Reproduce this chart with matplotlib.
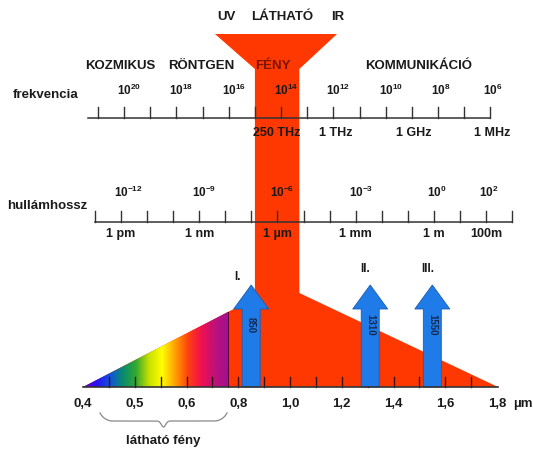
import numpy as np
import matplotlib.pyplot as plt
from matplotlib.patches import Polygon, FancyArrow
from matplotlib.colors import LinearSegmentedColormap

plt.rcParams['font.family'] = ['Liberation Sans', 'DejaVu Sans']
plt.rcParams['mathtext.fontset'] = 'custom'
plt.rcParams['mathtext.rm'] = 'Liberation Sans'
plt.rcParams['mathtext.bf'] = 'Liberation Sans:bold'

# --- data -------------------------------------------------------------
band_names = ['KOZMIKUS', 'RÖNTGEN', 'FÉNY', 'KOMMUNIKÁCIÓ']
band_freq_exp = [20.15, 17.05, 14.3, 8.75]          # label centre on the frequency scale
light_names = ['UV', 'LÁTHATÓ', 'IR']
light_freq_exp = [16.1, 13.95, 11.85]

freq_exps = [20, 18, 16, 14, 12, 10, 8, 6]
freq_named = [2.5e14, 1e12, 1e9, 1e6]
freq_named_labels = ['250 THz', '1 THz', '1 GHz', '1 MHz']

wl_exps = [-12, -9, -6, -3, 0, 2]
wl_named_labels = ['1 pm', '1 nm', '1 µm', '1 mm', '1 m', '100m']

um_values = [0.4, 0.5, 0.6, 0.8, 1.0, 1.2, 1.4, 1.6, 1.8]
um_labels = ['0,4', '0,5', '0,6', '0,8', '1,0', '1,2', '1,4', '1,6', '1,8']
visible_end = 0.76

windows = ['I.', 'II.', 'III.']
window_nm = [850, 1310, 1550]

rainbow = ['#6a00c0', '#2a10f0', '#1050e0', '#0a8a70', '#30a830', '#c8e000', '#ffff00',
           '#ffa000', '#ff4010', '#f01050', '#c0107a', '#a01090']

RED = '#fe3800'
BLUE = '#1f7be8'
INK = '#1a1a1a'


# --- scales (pixel layout of the figure) -------------------------------
def freq_x(e):
    return 98 + (21 - e) * 26.15


def wl_x(e):
    return 95 + (e + 13) * 26.07


def um_x(v):
    return 83 + 51.75 * np.interp(v, um_values, np.arange(len(um_values)))


fig = plt.figure(figsize=(5.33, 4.53), dpi=100)
ax = fig.add_axes([0, 0, 1, 1])
ax.set_xlim(0, 533)
ax.set_ylim(453, 0)
ax.axis('off')

bold = dict(fontweight='bold', color=INK)
FS = 9.5

# red funnel / spectrum shape
base_y = 387
x0, x1 = um_x(0.4), um_x(1.8) + 1
xv = um_x(visible_end)
slope = (base_y - 312) / (xv - x0)
stem_l, stem_r = freq_x(15.0), freq_x(13.3)
shape = [(x0, base_y), (stem_l, base_y - slope * (stem_l - x0)), (stem_l, 69),
         (215, 34), (337, 34), (stem_r, 69), (stem_r, 293), (x1, base_y)]
ax.add_patch(Polygon(shape, closed=True, fc=RED, ec='none', zorder=1))

# visible light gradient
tri = Polygon([(x0, base_y), (xv, base_y - slope * (xv - x0)), (xv, base_y)],
              closed=True, fc='none', ec='none')
ax.add_patch(tri)
cmap = LinearSegmentedColormap.from_list('vis', rainbow)
grad = np.linspace(0, 1, 256)[None, :]
im = ax.imshow(grad, cmap=cmap, extent=(x0, xv, base_y, 300), aspect='auto', zorder=2)
im.set_clip_path(tri)
ax.plot([xv, xv], [base_y, base_y - slope * (xv - x0)], color='#5a0030', lw=0.8, zorder=2)
ax.set_xlim(0, 533)
ax.set_ylim(453, 0)

# frequency axis
fy = 118
ax.plot([freq_x(21.4), freq_x(6)], [fy, fy], color='#333333', lw=1.1, zorder=3)
for e in range(6, 22):
    ax.plot([freq_x(e)] * 2, [fy, fy - 11], color='#333333', lw=1, zorder=3)
for e in freq_exps:
    ax.text(freq_x(e) - 7, 90, r'$\mathbf{10^{%d}}$' % e, fontsize=8.5, ha='left',
            va='center', zorder=5, color=INK)
for f, lab in zip(freq_named, freq_named_labels):
    ax.text(freq_x(np.log10(f)) + (6 if f > 1e13 else 2), 133, lab, fontsize=9, ha='center',
            va='center', zorder=5, **bold)
ax.text(46, 95, 'frekvencia', fontsize=FS, ha='center', va='center', zorder=5, **bold)

# wavelength axis
wy = 222
ax.plot([wl_x(-13), wl_x(3)], [wy, wy], color='#333333', lw=1.1, zorder=3)
for e in range(-13, 4):
    ax.plot([wl_x(e)] * 2, [wy, wy - 11], color='#333333', lw=1, zorder=3)
for e, lab in zip(wl_exps, wl_named_labels):
    ax.text(wl_x(e) - 7, 192, r'$\mathbf{10^{%d}}$' % e, fontsize=8.5, ha='left',
            va='center', zorder=5, color=INK)
    ax.text(wl_x(e), 234, lab, fontsize=9, ha='center', va='center', zorder=5, **bold)
ax.text(47, 206, 'hullámhossz', fontsize=FS, ha='center', va='center', zorder=5, **bold)

# band names
for name, e in zip(band_names, band_freq_exp):
    col = '#7a1500' if name == 'FÉNY' else INK
    ax.text(freq_x(e), 66, name, fontsize=FS, ha='center', va='center', zorder=5,
            fontweight='bold', color=col)
for name, e in zip(light_names, light_freq_exp):
    ax.text(freq_x(e), 17, name, fontsize=FS, ha='center', va='center', zorder=5, **bold)

# bottom micrometre axis
for k in range(1, 16):
    xt = um_x(um_values[0]) + 51.75 * k / 2
    ax.plot([xt, xt], [base_y, base_y - 10], color='#3a1010', lw=1, zorder=3)
for i, lab in enumerate(um_labels):
    ax.text(um_x(um_values[i]), 404, lab, fontsize=FS, ha='center', va='center', zorder=5, **bold)
ax.text(523, 404, 'µm', fontsize=FS, ha='center', va='center', zorder=5, **bold)

# transmission windows
for lab, nm, dy in zip(windows, window_nm, [277, 269, 269]):
    xa = um_x(nm / 1000)
    ax.add_patch(FancyArrow(xa, base_y, 0, 285 - base_y, width=18, head_width=35,
                            head_length=24, length_includes_head=True,
                            fc=BLUE, ec='#1b5cb0', lw=0.6, zorder=4))
    ax.text(xa, 325, str(nm), fontsize=7, rotation=-90, ha='center', va='center',
            color='#142850', fontweight='bold', zorder=5)
    ax.text(xa - 14 if lab == 'I.' else xa - 5, dy, lab, fontsize=8.5, ha='center',
            va='center', zorder=5, **bold)
ax.plot([x0, x1], [base_y, base_y], color='#333333', lw=1.2, zorder=4.5)

# brace under the visible range
bx = np.linspace(100, 227, 200)
bm = (100 + 227) / 2
t = np.abs(bx - bm) / (bm - 100)
by = 413 + 9 * (1 - np.exp(-((1 - t) / 0.08)))
by = np.minimum(by, 421) + 6 * np.exp(-((bx - bm) / 3.0) ** 2)
ax.plot(bx, by, color='#888888', lw=0.9, zorder=5)
ax.text(bm, 441, 'látható fény', fontsize=FS, ha='center', va='center', zorder=5, **bold)

fig.savefig('out.png', dpi=100)
